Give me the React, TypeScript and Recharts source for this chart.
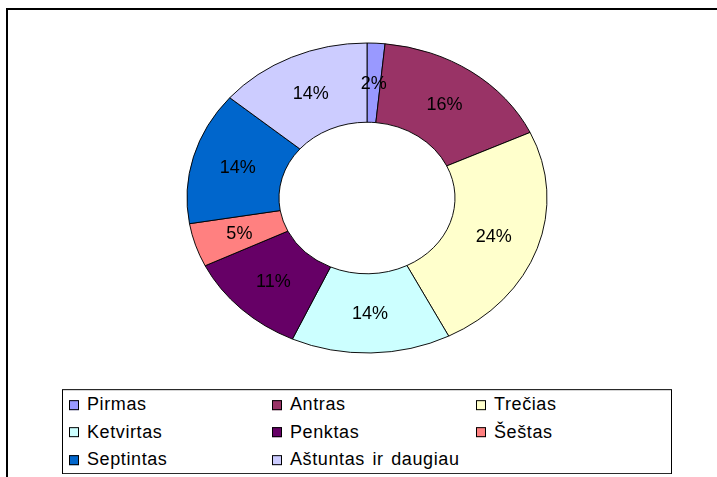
import React from "react";
import { PieChart, Pie, Cell, Legend } from "recharts";

// Shares (labels show them rounded)
const categories = [
  "Pirmas",
  "Antras",
  "Trečias",
  "Ketvirtas",
  "Penktas",
  "Šeštas",
  "Septintas",
  "Aštuntas ir daugiau",
];
const shares = [1.6, 16.45, 24.45, 14.3, 11.0, 4.55, 13.85, 13.8];
const colors = ["#9999FF", "#993366", "#FFFFCC", "#CCFFFF", "#660066", "#FF8080", "#0066CC", "#CCCCFF"];

const data = categories.map((name, i) => ({ name, value: shares[i] }));

const CX = 367;
const CY = 198;
const OUTER = 180;
const INNER = 88;
// the Excel ring is stretched into an ellipse, 180 wide by 155 tall
const SQUASH = 155 / 180;
const RAD = Math.PI / 180;
const FONT = "'Liberation Sans', Arial, sans-serif";

// legend box on the page, and where it sits inside the squashed chart
const LEG_TOP = 389;
const LEG_TOP_RAW = CY + (LEG_TOP - CY) / SQUASH;

const renderLabel = (props: any) => {
  const { cx, cy, midAngle, innerRadius, outerRadius, percent } = props;
  const r = (innerRadius + outerRadius) / 2;
  const x = cx + r * Math.cos(-midAngle * RAD);
  const y = cy + r * Math.sin(-midAngle * RAD);
  return (
    <text
      transform={`translate(${x},${y}) scale(1,${1 / SQUASH})`}
      textAnchor="middle"
      dominantBaseline="central"
      fill="#000"
      fontSize={18}
      fontFamily={FONT}
    >
      {`${Math.round(percent * 100)}%`}
    </text>
  );
};

// legend keeps the series order, not the alphabetical one
const renderLegend = () => (
  <div
    style={{
      display: "grid",
      gridTemplateColumns: "203px 204px 201px",
      gridAutoRows: "27.5px",
      paddingTop: 1,
      fontFamily: FONT,
      fontSize: 18,
      color: "#000",
    }}
  >
    {categories.map((name, i) => (
      <div key={`leg-${i}`} style={{ display: "flex", alignItems: "center", paddingLeft: 6 }}>
        <span
          style={{
            width: 8,
            height: 8,
            background: colors[i],
            border: "1px solid #000",
            marginRight: 8,
            flex: "none",
          }}
        />
        <span style={{ whiteSpace: "nowrap", letterSpacing: 0.6, wordSpacing: 2 }}>{name}</span>
      </div>
    ))}
  </div>
);

export default function App() {
  return (
    <div style={{ position: "absolute", left: 0, top: 0, width: 717, height: 477, background: "#fff", overflow: "hidden" }}>
      <div
        style={{
          position: "absolute",
          left: 6,
          top: 8,
          width: 730,
          height: 490,
          border: "2px solid #000",
          boxSizing: "border-box",
        }}
      />
      <div
        style={{
          position: "absolute",
          left: 0,
          top: 0,
          transform: `scaleY(${SQUASH})`,
          transformOrigin: `0px ${CY}px`,
        }}
      >
        <PieChart width={717} height={560} margin={{ top: 0, right: 0, bottom: 0, left: 0 }}>
          <Pie
            data={data}
            dataKey="value"
            nameKey="name"
            cx={CX}
            cy={CY}
            innerRadius={INNER}
            outerRadius={OUTER}
            startAngle={90}
            endAngle={-270}
            stroke="#000"
            strokeWidth={1}
            label={renderLabel}
            labelLine={false}
            isAnimationActive={false}
          >
            {data.map((d, i) => (
              <Cell key={`cell-${i}`} fill={colors[i]} />
            ))}
          </Pie>
          <Legend
            content={renderLegend}
            wrapperStyle={{
              position: "absolute",
              left: 62,
              top: LEG_TOP_RAW,
              width: 610,
              height: 85,
              border: "1px solid #000",
              boxSizing: "border-box",
              background: "#fff",
              transform: `scaleY(${1 / SQUASH})`,
              transformOrigin: "0 0",
            }}
          />
        </PieChart>
      </div>
    </div>
  );
}
